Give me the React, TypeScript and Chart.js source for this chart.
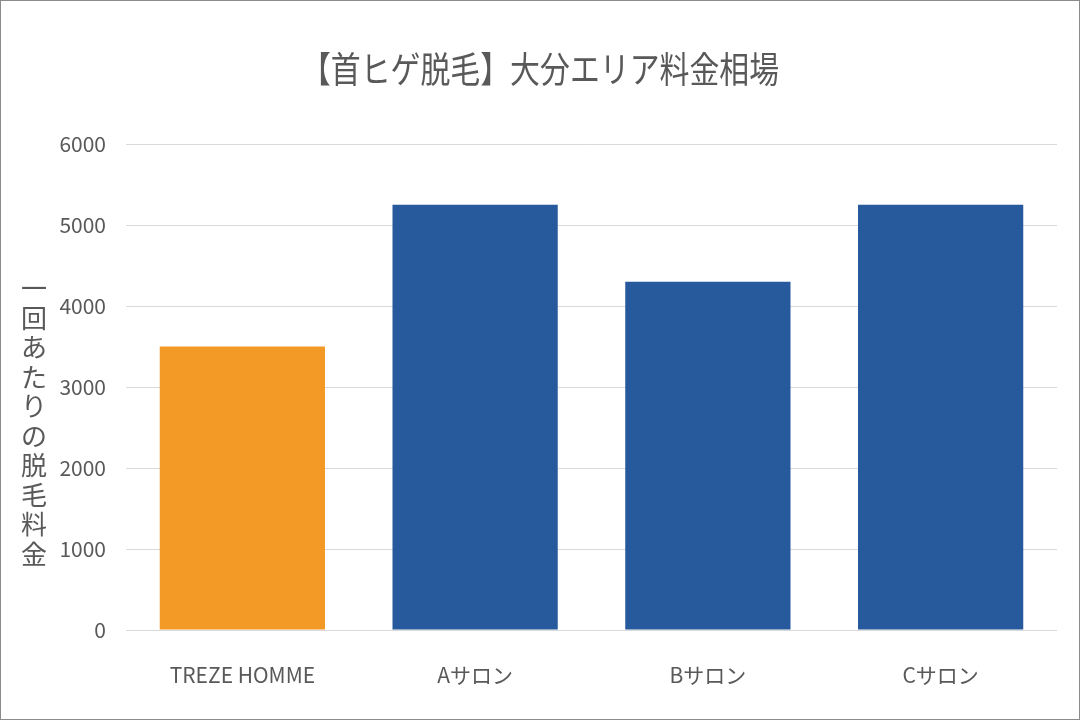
import { useRef, useEffect } from 'react';
import { Chart, registerables } from 'chart.js';

Chart.register(...registerables);

// chart values
const categories = ['TREZE HOMME', 'Aサロン', 'Bサロン', 'Cサロン'];
const prices = [3500, 5250, 4300, 5250];
const barColors = ['#F39A26', '#275A9D', '#275A9D', '#275A9D'];
const titleText = '【首ヒゲ脱毛】大分エリア料金相場';
const yTitleText = '一回あたりの脱毛料金';

const textColor = '#595959';
const fontFamily = "'Noto Sans CJK JP', sans-serif";

// the reference text is horizontally condensed, so the title is drawn squeezed
const condensedTitle = {
  id: 'condensedTitle',
  afterDraw(chart: Chart) {
    const { ctx, width } = chart;
    ctx.save();
    ctx.fillStyle = textColor;
    ctx.font = `36px ${fontFamily}`;
    ctx.textAlign = 'center';
    ctx.textBaseline = 'middle';
    ctx.translate(width / 2, 68);
    ctx.scale(0.83, 1);
    ctx.fillText(titleText, 0, 0);
    ctx.restore();
  },
};

// draws the y axis title as stacked vertical characters
const verticalTitle = {
  id: 'verticalTitle',
  afterDraw(chart: Chart) {
    const { ctx } = chart;
    const chars = Array.from(yTitleText);
    const step = 29.5;
    const centerY = 420;
    const startY = centerY - ((chars.length - 1) * step) / 2;
    ctx.save();
    ctx.fillStyle = textColor;
    ctx.font = `26px ${fontFamily}`;
    ctx.textAlign = 'center';
    ctx.textBaseline = 'middle';
    chars.forEach((c, i) => ctx.fillText(c, 33, startY + i * step));
    ctx.restore();
  },
};

function App() {
  const chartRef = useRef<HTMLCanvasElement | null>(null);
  const chartInstance = useRef<Chart | null>(null);

  useEffect(() => {
    document.body.style.margin = '0';
    if (chartInstance.current) {
      chartInstance.current.destroy();
    }
    if (chartRef.current) {
      const ctx = chartRef.current.getContext('2d');
      if (ctx) {
        chartInstance.current = new Chart(ctx, {
          type: 'bar',
          data: {
            labels: categories,
            datasets: [
              {
                data: prices,
                backgroundColor: barColors,
                borderWidth: 0,
                categoryPercentage: 1,
                barPercentage: 0.71,
              },
            ],
          },
          options: {
            animation: false,
            responsive: true,
            maintainAspectRatio: false,
            layout: { padding: { left: 0, right: 22, top: 143, bottom: 0 } },
            plugins: {
              legend: { display: false },
              tooltip: { enabled: false },
              title: { display: false },
            },
            scales: {
              x: {
                grid: { display: false },
                border: { display: false },
                ticks: {
                  color: textColor,
                  font: { family: fontFamily, size: 21 },
                  padding: 24,
                },
                afterFit(scale: any) {
                  scale.height = 89;
                },
              },
              y: {
                min: 0,
                max: 6000,
                ticks: {
                  stepSize: 1000,
                  color: textColor,
                  font: { family: fontFamily, size: 21 },
                  padding: 20,
                  callback: (value: any) => String(value),
                },
                grid: { color: '#D9D9D9', lineWidth: 1, drawTicks: false },
                border: { display: false },
                afterFit(scale: any) {
                  scale.width = 125;
                },
              },
            },
          },
          plugins: [condensedTitle, verticalTitle],
        });
      }
    }
    return () => {
      if (chartInstance.current) {
        chartInstance.current.destroy();
        chartInstance.current = null;
      }
    };
  }, []);

  return (
    <div
      style={{
        width: 1080,
        height: 720,
        boxSizing: 'border-box',
        border: '1px solid #8C8C8C',
        background: '#fff',
        position: 'relative',
      }}
    >
      <canvas ref={chartRef}></canvas>
    </div>
  );
}

export default App;
